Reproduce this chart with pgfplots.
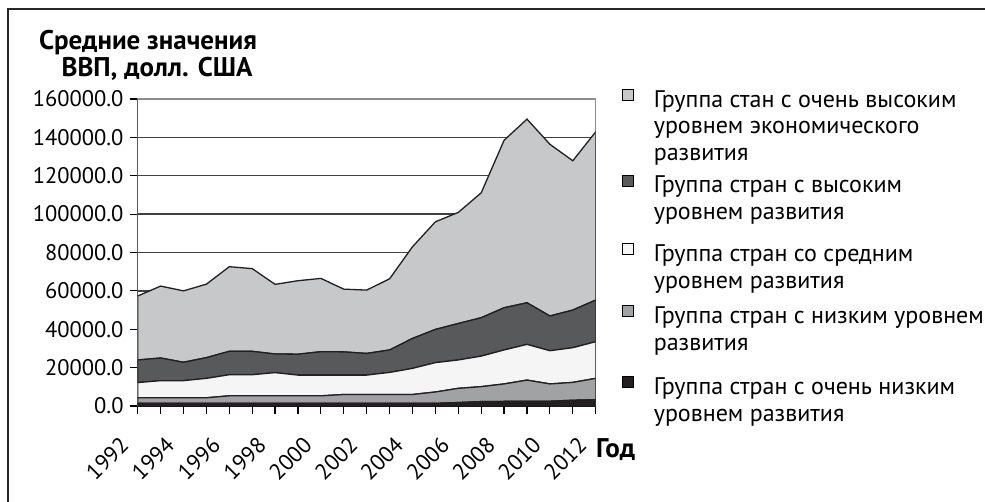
\documentclass[border=0pt]{standalone}
\usepackage{fontspec}
\setmainfont{PT Sans}
\usepackage{pgfplots}
\usepackage{pgfplotstable}
\pgfplotsset{compat=1.18}
\definecolor{cvh}{HTML}{C7C8CA}
\definecolor{ch}{HTML}{58595B}
\definecolor{cm}{HTML}{F5F5F5}
\definecolor{cl}{HTML}{A1A2A4}
\definecolor{cvl}{HTML}{231F20}
\definecolor{cline}{HTML}{231F20}
\pgfplotstableread{
x VL L M H VH
1992 1400 2900 7900 11800 33300
1993 1400 2900 8900 11800 37500
1994 1400 2900 8900 9600 37200
1995 1400 2900 10100 10800 38300
1996 1400 3900 11000 12200 44100
1997 1400 3900 11000 12200 43100
1998 1400 3900 12100 9700 36300
1999 1400 3900 10800 10900 38300
2000 1400 3900 10800 12200 38200
2001 1400 4600 10100 12100 32700
2002 1400 4600 10100 11300 33000
2003 1400 4600 11500 11700 37100
2004 1400 4600 13600 15600 47800
2005 1400 5900 15300 17300 56100
2006 1800 7400 14800 19000 57900
2007 2300 7800 15900 20000 65100
2008 2400 9100 17700 22000 87300
2009 2500 11000 18600 21700 95700
2010 2500 9000 17300 18100 89500
2011 3000 9300 18100 19600 77800
2012 3300 11100 19100 21700 87700
}\data
\newcommand{\dep}{\rule[-8pt]{0pt}{8pt}}
% sq={square offset}{row height above}{row depth below}
\pgfplotsset{
  sq/.style n args={3}{legend image code/.code={%
    \path[draw=none, fill=none] (5pt,#2pt) -- (5pt,-#3pt);
    \draw[##1, draw=black, line width=0.9pt] (0pt,#1pt+3.5pt) rectangle (11pt,#1pt+14.5pt);}}
}
\begin{document}
\begin{tikzpicture}[x=1pt,y=1pt]
\path[use as bounding box] (0,0) rectangle (985,501);
\draw[line width=2pt, color=black!85] (8,-5) -- (8,492) -- (990,492);
\node[font=\fontsize{27}{30}\selectfont\bfseries, anchor=base] at (148,451) {Средние значения};
\node[font=\fontsize{27}{30}\selectfont\bfseries, anchor=base] at (157,424) {ВВП, долл. США};
\node[font=\fontsize{27}{30}\selectfont\bfseries, anchor=west, inner sep=0pt] at (596,51) {Год};
\begin{axis}[
  at={(137.7pt,95pt)}, anchor=south west,
  scale only axis, width=458pt, height=307pt,
  xmin=1992, xmax=2012, ymin=0, ymax=160000,
  stack plots=y,
  xtick={1992,...,2012},
  xticklabels={1992,,1994,,1996,,1998,,2000,,2002,,2004,,2006,,2008,,2010,,2012},
  ytick={0,20000,...,160000},
  scaled y ticks=false,
  /pgf/number format/assume math mode=true,
  yticklabel style={/pgf/number format/fixed, /pgf/number format/fixed zerofill, /pgf/number format/precision=1, /pgf/number format/1000 sep={}, inner sep=0pt, xshift=-6pt},
  xticklabel style={xshift=-13pt, yshift=-27pt, rotate=45, anchor=east, inner sep=0pt},
  tick label style={font=\fontsize{22.5}{26}\selectfont},
  tick align=outside, xtick pos=bottom, ytick pos=left,
  major tick length=8pt,
  tick style={black, line width=1.2pt},
  ymajorgrids,
  major grid style={draw=black!75, line width=1.3pt},
  axis line style={draw=black!45, line width=1.2pt},
  reverse legend,
  legend cell align=left,
  legend style={at={(1.0568,1.0487)}, anchor=north west, draw=none, fill=none,
    font=\fontsize{24}{26.7}\selectfont, row sep=0pt, inner sep=0pt,
    nodes={inner sep=0pt, align=left},
    /tikz/every odd column/.append style={column sep=20pt}},
]
\addplot[fill=cvl, draw=cline, line width=1.3pt, sq={8}{35.85}{27}] table[x=x,y=VL]{\data} \closedcycle;
\addlegendentry{\strut Группа стран с очень низким\\уровнем развития\dep}
\addplot[fill=cl, draw=cline, line width=1.3pt, sq={8}{31.15}{35.3}] table[x=x,y=L]{\data} \closedcycle;
\addlegendentry{\strut Группа стран с низким уровнем\\развития\dep}
\addplot[fill=cm, draw=cline, line width=1.3pt, sq={8}{34.7}{30.6}] table[x=x,y=M]{\data} \closedcycle;
\addlegendentry{\strut Группа стран со средним\\уровнем развития\dep}
\addplot[fill=ch, draw=cline, line width=1.3pt, sq={8}{31.25}{34.2}] table[x=x,y=H]{\data} \closedcycle;
\addlegendentry{\strut Группа стран с высоким\\уровнем развития\dep}
\addplot[fill=cvh, draw=cline, line width=1.3pt, sq={21.35}{41}{41}] table[x=x,y=VH]{\data} \closedcycle;
\addlegendentry{\strut Группа стан с очень высоким\\уровнем экономического\\развития\dep}
\draw[black, line width=1.5pt] (axis cs:1992,160000) -- (axis cs:1992,0) -- (axis cs:2012,0);
\end{axis}
\end{tikzpicture}
\end{document}
